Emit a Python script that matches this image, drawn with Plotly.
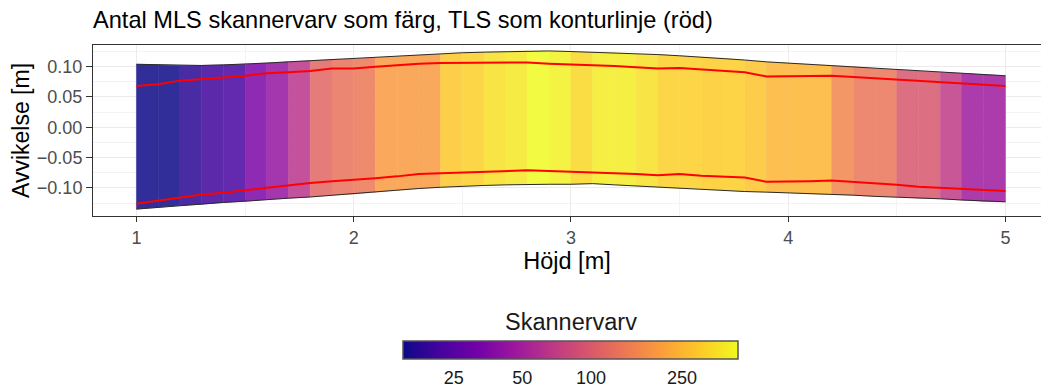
import numpy as np
import plotly.graph_objects as go
from plotly.colors import sample_colorscale

# ---------------- data ----------------
# band edges (Höjd, m)
edges = [round(1.0 + 0.1 * i, 1) for i in range(41)]

# MLS scanner passes per 0.1 m band (40 bands)
scan_counts = [15, 15, 18, 21, 22, 34, 43, 64, 114, 130,
               139, 195, 195, 195, 293, 314, 359, 384, 440, 411,
               336, 397, 397, 359, 314, 314, 303, 308, 283, 248,
               248, 248, 160, 135, 135, 96, 96, 69, 47, 47]

# MLS envelope (top / bottom) at band edges
mls_top = [0.104, 0.103, 0.102, 0.102, 0.103, 0.104, 0.106, 0.108, 0.110, 0.112,
           0.113, 0.115, 0.117, 0.119, 0.121, 0.123, 0.124, 0.125, 0.126, 0.126,
           0.125, 0.124, 0.123, 0.121, 0.120, 0.118, 0.116, 0.114, 0.111, 0.108,
           0.106, 0.104, 0.102, 0.100, 0.097, 0.095, 0.093, 0.091, 0.089, 0.087, 0.085]
mls_bot = [-0.135, -0.132, -0.129, -0.127, -0.124, -0.122, -0.119, -0.117, -0.115, -0.112,
           -0.110, -0.107, -0.104, -0.101, -0.099, -0.097, -0.096, -0.095, -0.094, -0.094,
           -0.094, -0.093, -0.095, -0.097, -0.099, -0.101, -0.102, -0.104, -0.106, -0.107,
           -0.108, -0.110, -0.111, -0.112, -0.114, -0.115, -0.117, -0.118, -0.120, -0.122, -0.123]

# TLS contour (red) top / bottom
tls_top = [0.068, 0.071, 0.077, 0.079, 0.082, 0.085, 0.089, 0.091, 0.093, 0.097,
           0.097, 0.100, 0.103, 0.105, 0.106, 0.106, 0.107, 0.107, 0.107, 0.105,
           0.104, 0.102, 0.101, 0.099, 0.097, 0.098, 0.096, 0.093, 0.091, 0.084,
           0.084, 0.084, 0.085, 0.083, 0.081, 0.078, 0.076, 0.075, 0.073, 0.071, 0.068]
tls_bot = [-0.126, -0.121, -0.115, -0.111, -0.108, -0.104, -0.099, -0.095, -0.092, -0.089,
           -0.087, -0.084, -0.081, -0.077, -0.076, -0.075, -0.073, -0.072, -0.071, -0.072,
           -0.073, -0.074, -0.075, -0.077, -0.079, -0.077, -0.080, -0.082, -0.083, -0.090,
           -0.090, -0.089, -0.088, -0.090, -0.092, -0.095, -0.098, -0.100, -0.101, -0.103, -0.105]

cbar_ticks = [25, 50, 100, 250]

# ---------------- figure ----------------
FONT = "Liberation Sans, Arial, sans-serif"
log_counts = np.log10(scan_counts)
cmin, cmax = float(log_counts.min()), float(log_counts.max())
ALPHA = 0.85

fig = go.Figure()

for i, v in enumerate(log_counts):
    t = (v - cmin) / (cmax - cmin)
    c = sample_colorscale("Plasma", [t], colortype="tuple")[0]
    # blend with white (semi-transparent fill look, without seams)
    rgb = tuple(round((ALPHA * ch + (1 - ALPHA)) * 255) for ch in c)
    col = "rgb(%d,%d,%d)" % rgb
    x0, x1 = edges[i], edges[i + 1]
    fig.add_trace(go.Scatter(
        x=[x0, x1, x1, x0, x0],
        y=[mls_bot[i], mls_bot[i + 1], mls_top[i + 1], mls_top[i], mls_bot[i]],
        fill="toself", fillcolor=col, mode="lines", line=dict(width=0.5, color=col),
        hoverinfo="skip", showlegend=False))

for env in (mls_top, mls_bot):
    fig.add_trace(go.Scatter(x=edges, y=env, mode="lines",
                             line=dict(color="#2a2a2a", width=1),
                             showlegend=False, hoverinfo="skip"))

for tl in (tls_top, tls_bot):
    fig.add_trace(go.Scatter(x=edges, y=tl, mode="lines",
                             line=dict(color="#ff0000", width=2),
                             showlegend=False))

# colour bar carrier (log scale)
mids = [(edges[i] + edges[i + 1]) / 2 for i in range(len(scan_counts))]
fig.add_trace(go.Scatter(
    x=mids, y=[0] * len(mids), mode="markers", hoverinfo="skip", showlegend=False,
    marker=dict(size=1, opacity=0, color=log_counts, colorscale="Plasma",
                cmin=cmin, cmax=cmax, showscale=True,
                colorbar=dict(
                    orientation="h", x=0.5037, xanchor="center",
                    y=(216 - 341) / 171, yanchor="top", yref="paper",
                    lenmode="pixels", len=335, thickness=18,
                    outlinecolor="#555555", outlinewidth=1.5,
                    tickvals=[float(np.log10(v)) for v in cbar_ticks],
                    ticktext=[str(v) for v in cbar_ticks],
                    ticks="outside", ticklen=3, tickcolor="rgba(0,0,0,0)",
                    tickfont=dict(family=FONT, size=18, color="#1a1a1a"),
                    xpad=0, ypad=0))))

fig.add_annotation(text="Skannervarv", xref="paper", yref="paper",
                   x=(571 - 93) / 948, y=(216 - 322) / 171,
                   xanchor="center", yanchor="middle", showarrow=False,
                   font=dict(family=FONT, size=23.5, color="#1a1a1a"))

fig.update_layout(
    width=1041, height=389,
    margin=dict(l=93, r=0, t=45, b=173, autoexpand=False),
    paper_bgcolor="white", plot_bgcolor="white",
    font=dict(family=FONT),
    title=dict(text="Antal MLS skannervarv som färg, TLS som konturlinje (röd)",
               x=93 / 1041, xanchor="left", xref="container",
               y=1 - 20 / 389, yanchor="middle", yref="container",
               font=dict(family=FONT, size=23.6, color="#000000")),
)

fig.update_xaxes(
    range=[0.8, 0.8 + 948 / 217.25], dtick=1, tick0=1, automargin=False,
    showgrid=True, gridcolor="#ebebeb", gridwidth=1.1,
    minor=dict(dtick=0.5, tick0=0.5, showgrid=True, gridcolor="#f3f3f3", gridwidth=0.6),
    showline=True, mirror=True, linecolor="#333333", linewidth=1,
    ticks="outside", ticklen=5, tickwidth=1.2, tickcolor="#333333",
    tickfont=dict(family=FONT, size=18, color="#4d4d4d"),
    title=dict(text="Höjd [m]", standoff=5, font=dict(family=FONT, size=23.5, color="#000000")),
    zeroline=False,
)
fig.update_yaxes(
    range=[-0.1464, 0.1358], dtick=0.05, tick0=0, tickformat=".2f", automargin=False,
    showgrid=True, gridcolor="#ebebeb", gridwidth=1.1,
    minor=dict(dtick=0.025, tick0=0.025, showgrid=True, gridcolor="#f3f3f3", gridwidth=0.6),
    showline=True, mirror=False, linecolor="#333333", linewidth=1,
    ticks="outside", ticklen=6, tickwidth=1.2, tickcolor="#333333",
    tickfont=dict(family=FONT, size=18, color="#4d4d4d"),
    title=dict(text="Avvikelse [m]", standoff=0, font=dict(family=FONT, size=23, color="#000000")),
    zeroline=False,
)

fig.write_html("out.html")
